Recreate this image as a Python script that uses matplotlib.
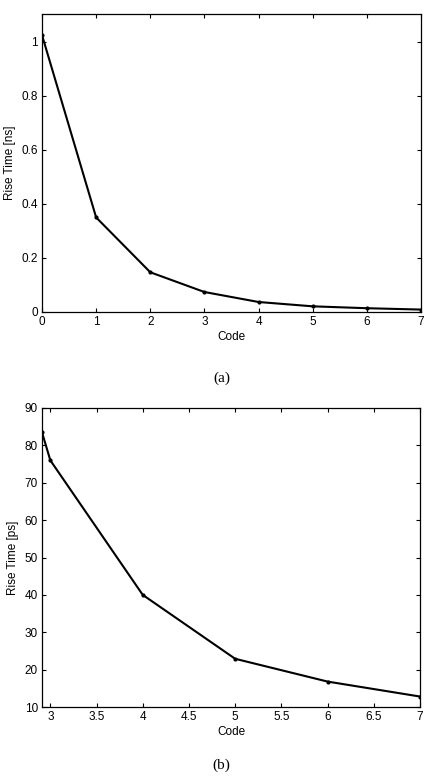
import matplotlib
matplotlib.use("Agg")
import matplotlib.pyplot as plt

codes_a = [0, 1, 2, 3, 4, 5, 6, 7]
rise_a_ns = [1.025, 0.35, 0.147, 0.074, 0.037, 0.021, 0.014, 0.009]
codes_b = [2.91, 3, 4, 5, 6, 7]
rise_b_ps = [83.5, 76.0, 40.0, 22.9, 16.8, 12.8]
xticks_a = [0, 1, 2, 3, 4, 5, 6, 7]
yticks_a = [0, 0.2, 0.4, 0.6, 0.8, 1]
xticks_b = [3, 3.5, 4, 4.5, 5, 5.5, 6, 6.5, 7]
yticks_b = [10, 20, 30, 40, 50, 60, 70, 80, 90]

plt.rcParams['font.family'] = ['Liberation Sans', 'DejaVu Sans']

fig = plt.figure(figsize=(4.28, 7.81), dpi=100)
W, H = 428, 781

def make_ax(left, top, right, bottom):
    return fig.add_axes([left / W, 1 - bottom / H, (right - left) / W, (bottom - top) / H])

def style(ax):
    ax.tick_params(direction='in', top=True, right=True, labelsize=8.5, length=3, width=0.8, pad=3)
    for s in ax.spines.values():
        s.set_linewidth(0.9)

ax1 = make_ax(42, 14, 421, 312)
ax1.plot(codes_a, rise_a_ns, color='black', lw=1.5, marker='.', ms=4)
ax1.set_xlim(0, 7)
ax1.set_ylim(0, 1.103)
ax1.set_xticks(xticks_a)
ax1.set_yticks(yticks_a)
ax1.set_yticklabels(['0', '0.2', '0.4', '0.6', '0.8', '1'])
ax1.set_xlabel('Code', fontsize=8.5, labelpad=2)
ax1.set_ylabel('Rise Time [ns]', fontsize=8.5, labelpad=4)
style(ax1)

ax2 = make_ax(42, 408, 420, 707)
ax2.plot(codes_b, rise_b_ps, color='black', lw=1.5, marker='.', ms=4)
ax2.set_xlim(2.91, 7)
ax2.set_ylim(10, 90)
ax2.set_xticks(xticks_b)
ax2.set_xticklabels(['3', '3.5', '4', '4.5', '5', '5.5', '6', '6.5', '7'])
ax2.set_yticks(yticks_b)
ax2.set_xlabel('Code', fontsize=8.5, labelpad=2)
ax2.set_ylabel('Rise Time [ps]', fontsize=8.5, labelpad=4)
style(ax2)

fig.text(222 / W, 1 - 378 / H, '(a)', ha='center', va='center', fontsize=11, family='Liberation Serif')
fig.text(221 / W, 1 - 765 / H, '(b)', ha='center', va='center', fontsize=11, family='Liberation Serif')

fig.savefig('out.png', dpi=100)
